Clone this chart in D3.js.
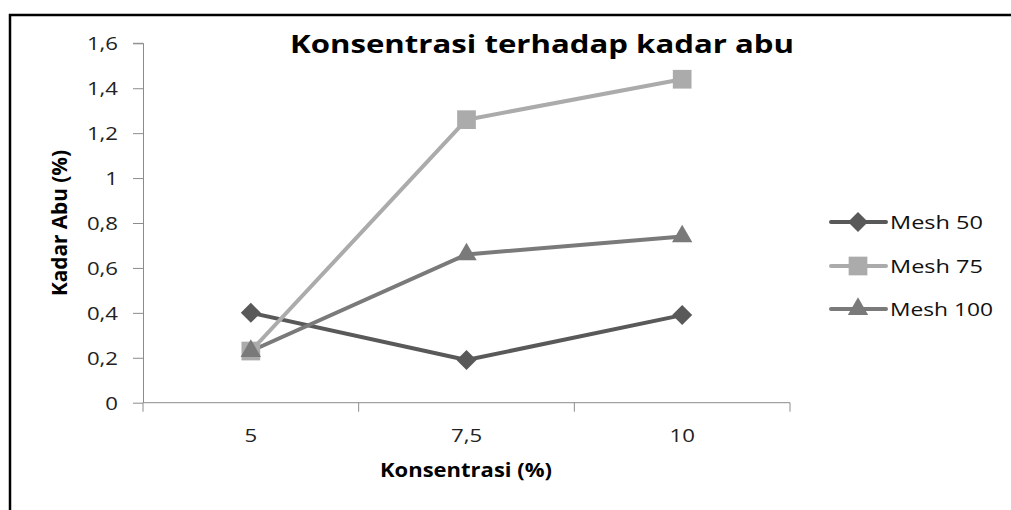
<!DOCTYPE html>
<html><head><meta charset="utf-8">
<script src="https://cdn.jsdelivr.net/npm/d3@7"></script>
<style>body{margin:0;background:#fff}svg{display:block}text{font-family:"Open Sans",sans-serif}</style>
</head><body>
<svg id="c" width="1011" height="510"></svg>
<script>
const categories = ["5", "7,5", "10"];
const mesh50 = [0.40, 0.19, 0.39];
const mesh75 = [0.23, 1.26, 1.44];
const mesh100 = [0.23, 0.66, 0.74];
const seriesNames = ["Mesh 50", "Mesh 75", "Mesh 100"];
const yTicks = [0, 0.2, 0.4, 0.6, 0.8, 1, 1.2, 1.4, 1.6];
const titleText = "Konsentrasi terhadap kadar abu";
const xTitle = "Konsentrasi  (%)";
const yTitle = "Kadar Abu (%)";

const seriesValues = [mesh50, mesh75, mesh100];
const colors = ["#595959", "#ababab", "#7a7a7a"];
const shapes = [d3.symbolSquare, d3.symbolSquare, d3.symbolTriangle];
const rotations = [45, 0, 0];
const sizes = [200, 350, 180];
const legendWidths = [93, 93, 103];

const svg = d3.select("#c");
// outer border (right and bottom fall outside the view)
svg.append("rect").attr("x", 10).attr("y", 15).attr("width", 1100).attr("height", 600)
  .attr("fill", "none").attr("stroke", "#000").attr("stroke-width", 2.5);

const pLeft = 143, pRight = 790, pTop = 43.3, pBottom = 402.7;
const x = d3.scaleBand().domain(categories).range([pLeft, pRight]);
const y = d3.scaleLinear().domain([0, 1.6]).range([pBottom, pTop]);
const SX = 1.2;

// y axis
const yAxis = svg.append("g").attr("transform", `translate(${pLeft},0)`)
  .call(d3.axisLeft(y).tickValues(yTicks).tickSize(10).tickPadding(0)
    .tickFormat(d => String(d).replace(".", ",")));
yAxis.select(".domain").attr("stroke", "#8c8c8c").attr("d", `M-10,${pTop}H0.5V${pBottom}`);
yAxis.selectAll(".tick line").attr("stroke", "#8c8c8c");
yAxis.selectAll("text").attr("font-size", 18.5).attr("fill", "#222").attr("dy", "0.36em")
  .attr("x", -25 / SX).attr("transform", `scale(${SX},1)`);

// x axis
const xAxis = svg.append("g").attr("transform", `translate(0,${pBottom})`)
  .call(d3.axisBottom(x).tickSize(0).tickPadding(26));
xAxis.select(".domain").attr("stroke", "#8c8c8c").attr("d", `M${pLeft},0H${pRight}`);
xAxis.selectAll("text").attr("font-size", 18.5).attr("fill", "#222")
  .attr("transform", `scale(${SX},1)`);
const bounds = categories.map(c => x(c)).concat([pRight]);
xAxis.selectAll(".bnd").data(bounds).enter().append("line")
  .attr("x1", d => d).attr("x2", d => d).attr("y1", 0).attr("y2", 9)
  .attr("stroke", "#8c8c8c");

const cx = c => x(c) + x.bandwidth() / 2;
const line = d3.line().x((d, i) => cx(categories[i])).y(d => y(d));

seriesValues.forEach((vals, si) => {
  svg.append("path").datum(vals).attr("d", line).attr("fill", "none")
    .attr("stroke", colors[si]).attr("stroke-width", 4).attr("stroke-linejoin", "round");
});
seriesValues.forEach((vals, si) => {
  svg.selectAll(null).data(vals).enter().append("path")
    .attr("d", d3.symbol().type(shapes[si]).size(sizes[si]))
    .attr("transform", (d, i) => `translate(${cx(categories[i])},${y(d)}) rotate(${rotations[si]})`)
    .attr("fill", colors[si]);
});

// titles
svg.append("text").attr("x", 290).attr("y", 53)
  .attr("font-size", 25).attr("font-weight", "bold").attr("fill", "#000")
  .attr("textLength", 504).attr("lengthAdjust", "spacingAndGlyphs").text(titleText);
svg.append("text").attr("x", 380).attr("y", 477)
  .attr("font-size", 19).attr("font-weight", "bold").attr("fill", "#000")
  .attr("textLength", 172).attr("lengthAdjust", "spacingAndGlyphs").text(xTitle);
svg.append("text").attr("transform", "translate(67,296) rotate(-90)")
  .attr("font-size", 21).attr("font-weight", "bold").attr("fill", "#000")
  .attr("textLength", 146).attr("lengthAdjust", "spacingAndGlyphs").text(yTitle);

// legend
const legY = [222, 266, 309];
seriesNames.forEach((n, si) => {
  const g = svg.append("g").attr("transform", `translate(0,${legY[si]})`);
  g.append("line").attr("x1", 831).attr("x2", 886).attr("y1", 0).attr("y2", 0)
    .attr("stroke", colors[si]).attr("stroke-width", 4).attr("stroke-linecap", "round");
  g.append("path").attr("d", d3.symbol().type(shapes[si]).size(sizes[si]))
    .attr("transform", `translate(858,0) rotate(${rotations[si]})`).attr("fill", colors[si]);
  g.append("text").attr("x", 890).attr("y", 0).attr("dy", "0.36em")
    .attr("font-size", 18.5).attr("fill", "#111")
    .attr("textLength", legendWidths[si]).attr("lengthAdjust", "spacingAndGlyphs").text(n);
});
</script>
</body></html>
